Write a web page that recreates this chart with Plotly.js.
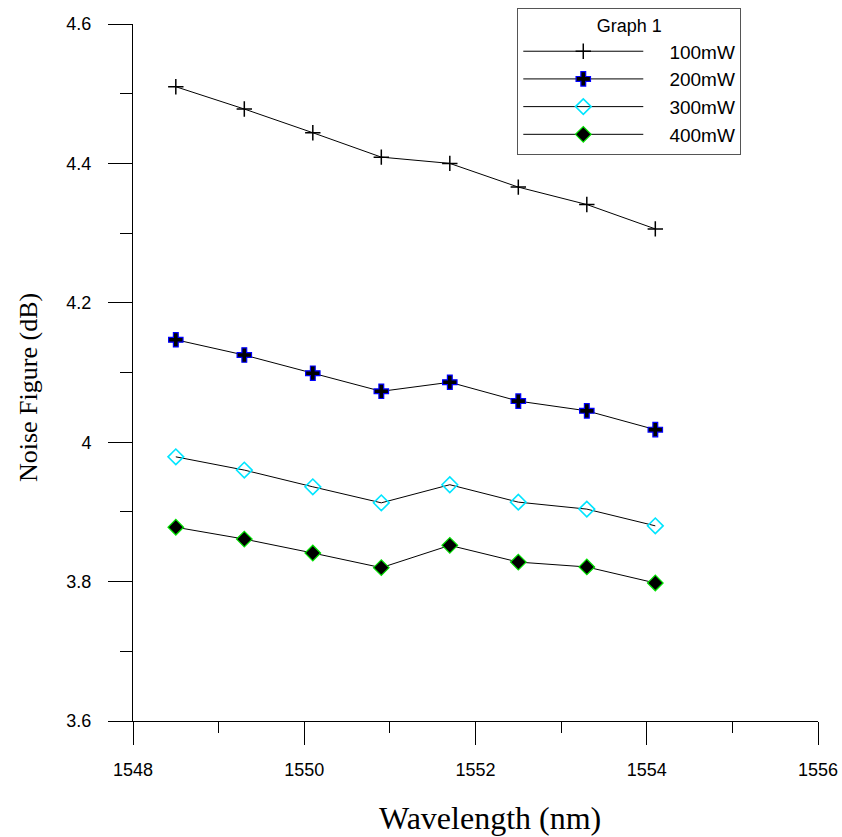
<!DOCTYPE html>
<html>
<head>
<meta charset="utf-8">
<script src="https://cdn.plot.ly/plotly-3.0.1.min.js"></script>
<style>html,body{margin:0;padding:0;background:#fff;}#chart{width:842px;height:837px;}</style>
</head>
<body>
<div id="chart"></div>
<script>
const wavelength = [1548.5, 1549.3, 1550.1, 1550.9, 1551.7, 1552.5, 1553.3, 1554.1];
const nf100 = [4.510, 4.478, 4.444, 4.409, 4.400, 4.366, 4.341, 4.306];
const nf200 = [4.147, 4.125, 4.099, 4.073, 4.086, 4.059, 4.045, 4.018];
const nf300 = [3.979, 3.960, 3.936, 3.913, 3.939, 3.914, 3.904, 3.880];
const nf400 = [3.878, 3.861, 3.841, 3.820, 3.852, 3.828, 3.821, 3.798];
const seriesNames = ['100mW', '200mW', '300mW', '400mW'];
const xTickVals = [1548, 1550, 1552, 1554, 1556];
const yTickVals = [3.6, 3.8, 4.0, 4.2, 4.4, 4.6];
const yTickText = ['3.6', '3.8', '4', '4.2', '4.4', '4.6'];
const xTitle = 'Wavelength (nm)';
const yTitle = 'Noise Figure (dB)';
const legendTitle = 'Graph 1';

const pad = '\u00a0\u00a0\u00a0\u00a0';
const lineStyle = {color: '#000', width: 1};
const traces = [
  {x: wavelength, y: nf100, name: pad + seriesNames[0], mode: 'lines+markers', line: lineStyle,
   marker: {symbol: 'cross-thin', size: 11, line: {color: '#000', width: 1.5}}},
  {x: wavelength, y: nf200, name: pad + seriesNames[1], mode: 'lines+markers', line: lineStyle,
   marker: {symbol: 'cross', size: 12, color: '#000', line: {color: '#0000ff', width: 1.2}}},
  {x: wavelength, y: nf300, name: pad + seriesNames[2], mode: 'lines+markers', line: lineStyle,
   marker: {symbol: 'diamond-open', size: 12, color: '#00e5ff', line: {color: '#00e5ff', width: 1.6}}},
  {x: wavelength, y: nf400, name: pad + seriesNames[3], mode: 'lines+markers', line: lineStyle,
   marker: {symbol: 'diamond', size: 12, color: '#000', line: {color: '#00e000', width: 1.2}}}
];

const serif = 'Liberation Serif, Times New Roman, serif';
const layout = {
  width: 842, height: 837,
  margin: {l: 133, r: 24, t: 24, b: 116, autoexpand: false},
  paper_bgcolor: '#fff', plot_bgcolor: '#fff',
  font: {family: 'Liberation Sans, Arial, sans-serif', color: '#000', size: 18},
  showlegend: true,
  legend: {
    x: 0.561, y: 1.023, xanchor: 'left', yanchor: 'top',
    bgcolor: '#fff', bordercolor: '#555', borderwidth: 1,
    font: {size: 19, family: 'Liberation Sans, Arial, sans-serif'},
    title: {text: legendTitle, side: 'top center', font: {size: 18}},
    itemwidth: 120, tracegroupgap: 0
  },
  xaxis: {
    range: [1548, 1556], tickvals: xTickVals, ticktext: xTickVals.map(String),
    showline: true, linecolor: '#000', linewidth: 1,
    ticks: 'outside', ticklen: 23, tickwidth: 1, tickcolor: '#000',
    minor: {dtick: 1, ticks: 'outside', ticklen: 11, tickwidth: 1, tickcolor: '#000', showgrid: false},
    showgrid: false, zeroline: false,
    tickfont: {size: 18}, ticklabelstandoff: 9
  },
  yaxis: {
    range: [3.6, 4.6], tickvals: yTickVals, ticktext: yTickText,
    showline: true, linecolor: '#000', linewidth: 1,
    ticks: 'outside', ticklen: 24, tickwidth: 1, tickcolor: '#000',
    minor: {dtick: 0.1, ticks: 'outside', ticklen: 12, tickwidth: 1, tickcolor: '#000', showgrid: false},
    showgrid: false, zeroline: false,
    tickfont: {size: 18}, ticklabelstandoff: 13
  },
  annotations: [
    {text: yTitle, xref: 'paper', yref: 'paper', x: -0.1534, y: 0.479, xanchor: 'center', yanchor: 'middle',
     textangle: -90, showarrow: false, font: {family: serif, size: 26, color: '#000'}},
    {text: xTitle, xref: 'paper', yref: 'paper', x: 0.521, y: -0.139, xanchor: 'center', yanchor: 'middle',
     showarrow: false, font: {family: serif, size: 32, color: '#000'}}
  ]
};

Plotly.newPlot('chart', traces, layout, {displayModeBar: false, staticPlot: true});
</script>
</body>
</html>
